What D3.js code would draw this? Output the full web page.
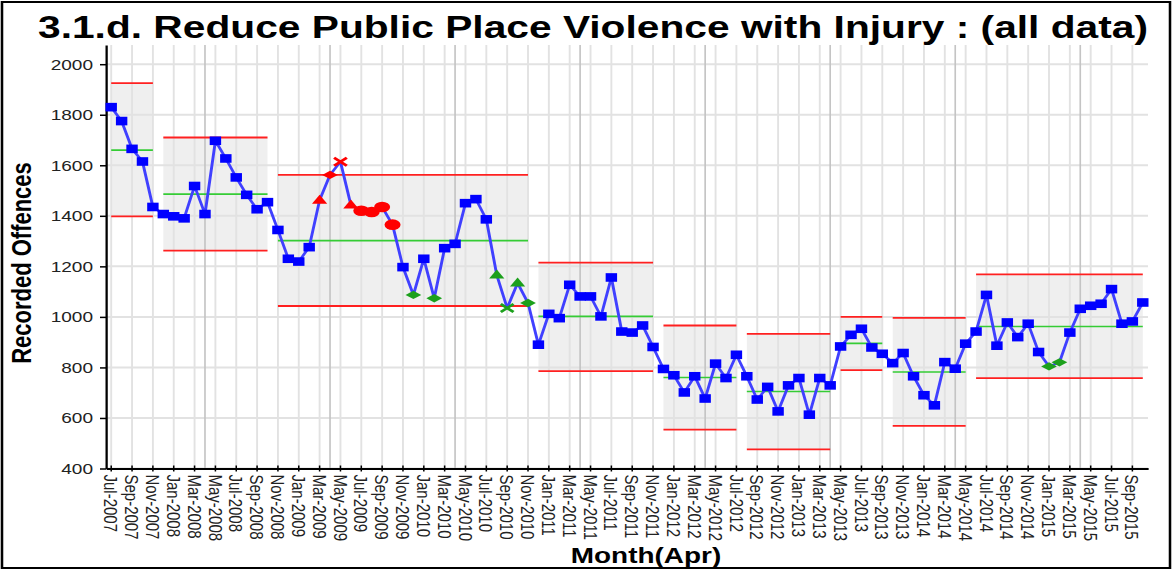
<!DOCTYPE html>
<html>
<head>
<meta charset="utf-8">
<script src="https://cdnjs.cloudflare.com/ajax/libs/d3/7.8.5/d3.min.js"></script>
<style>
  body { margin: 0; background: #fff; }
  svg { display: block; }
  text { font-family: "Liberation Sans", Arial, sans-serif; }
</style>
</head>
<body>
<svg id="chart"></svg>
<script>
// Monthly recorded offences, Jul-2007 .. Oct-2015
const firstMonth = new Date(2007, 6, 1);
const lastMonth = new Date(2015, 9, 1);

const offences = [
    1830, 1775, 1665, 1615, 1435,
    1407, 1398, 1390, 1518, 1407, 1697, 1627, 1552, 1483, 1426, 1454,
    1344, 1230, 1219, 1276, 1462, 1562, 1614, 1443, 1420, 1415, 1435, 1365,
    1197, 1087, 1230, 1074, 1272, 1289, 1450, 1466, 1386, 1166, 1035, 1134, 1055,
    890, 1012, 995, 1127, 1081, 1081, 1002, 1156, 942, 938, 966, 881,
    794, 769, 701, 765, 677, 815, 758, 850,
    765, 673, 723, 626, 729, 758, 613, 758, 729,
    883, 929, 953, 879, 854,
    817, 857, 765, 690, 650, 821, 795, 894,
    942, 1087, 886, 978, 920, 973, 861, 804, 820, 938, 1032, 1044, 1052, 1110, 973, 982, 1057
];

// control limit periods
const segStart = ['Jul-2007', 'Dec-2007', 'Nov-2008', 'Dec-2010', 'Dec-2011', 'Aug-2012', 'May-2013', 'Oct-2013', 'Jun-2014'];
const segEnd   = ['Nov-2007', 'Oct-2008', 'Nov-2010', 'Nov-2011', 'Jul-2012', 'Apr-2013', 'Sep-2013', 'May-2014', 'Oct-2015'];
const segMean  = [1660, 1486, 1302, 1002, 760, 705, 895, 782, 962];
const segUCL   = [1925, 1710, 1562, 1215, 966, 933, 1000, 996, 1168];
const segLCL   = [1398, 1262, 1043, 785, 554, 476, 789, 569, 758];

// special cause points: [month, side, rule]
const signals = [
    ['Mar-2009', 'hi', 'twoOfThree'], ['Apr-2009', 'hi', 'fourOfFive'], ['May-2009', 'hi', 'outside'],
    ['Jun-2009', 'hi', 'twoOfThree'], ['Jul-2009', 'hi', 'run'], ['Aug-2009', 'hi', 'run'],
    ['Sep-2009', 'hi', 'run'], ['Oct-2009', 'hi', 'run'],
    ['Dec-2009', 'lo', 'fourOfFive'], ['Feb-2010', 'lo', 'fourOfFive'], ['Aug-2010', 'lo', 'twoOfThree'],
    ['Sep-2010', 'lo', 'outside'], ['Oct-2010', 'lo', 'twoOfThree'], ['Nov-2010', 'lo', 'fourOfFive'],
    ['Jan-2015', 'lo', 'fourOfFive'], ['Feb-2015', 'lo', 'fourOfFive']
];

const yTicks = [400, 600, 800, 1000, 1200, 1400, 1600, 1800, 2000];

const W = 1174, H = 571;
const SX = 1.27; // picture is stretched horizontally
const VW = W / SX;

const svg = d3.select('#chart')
    .attr('width', W)
    .attr('height', H)
    .attr('viewBox', [0, 0, VW, H])
    .attr('preserveAspectRatio', 'none');

const fmt = d3.timeFormat('%b-%Y');
const monthDates = d3.timeMonth.range(firstMonth, d3.timeMonth.offset(lastMonth, 1));
const months = monthDates.map(fmt);

const x = d3.scaleBand().domain(months).range([106 / SX, 1148 / SX]);
const cx = m => x(m) + x.bandwidth() / 2;
const y = d3.scaleLinear().domain([400, 2076]).range([468.5, 45]);
const [left, right] = x.range();

// frame
svg.append('rect')
    .attr('x', 2 / SX).attr('y', 2)
    .attr('width', 1168 / SX).attr('height', 566)
    .attr('fill', 'none').attr('stroke', '#000').attr('stroke-width', 2);

// title
svg.append('text')
    .attr('x', 593 / SX).attr('y', 38)
    .attr('text-anchor', 'middle')
    .attr('font-size', 32).attr('font-weight', 'bold')
    .attr('textLength', 1110 / SX).attr('lengthAdjust', 'spacingAndGlyphs')
    .text('3.1.d. Reduce Public Place Violence with Injury : (all data)');

const segs = segStart.map((s, i) => ({ s, e: segEnd[i], mean: segMean[i], ucl: segUCL[i], lcl: segLCL[i] }));

// shaded limit bands
svg.append('g').selectAll('rect')
    .data(segs)
    .join('rect')
    .attr('x', d => cx(d.s))
    .attr('width', d => cx(d.e) - cx(d.s))
    .attr('y', d => y(d.ucl))
    .attr('height', d => y(d.lcl) - y(d.ucl))
    .attr('fill', '#efefef');

// grid
const grid = svg.append('g');
grid.selectAll('.hg')
    .data(yTicks)
    .join('line')
    .attr('x1', left).attr('x2', right)
    .attr('y1', d => y(d)).attr('y2', d => y(d))
    .attr('stroke', '#e2e2e2').attr('stroke-width', 2);

const tickMonths = months.filter((m, i) => i % 2 === 0);
grid.selectAll('.vg')
    .data(tickMonths)
    .join('line')
    .attr('x1', d => cx(d)).attr('x2', d => cx(d))
    .attr('y1', y.range()[1]).attr('y2', y.range()[0])
    .attr('stroke', '#e2e2e2').attr('stroke-width', 1.5);

grid.selectAll('.ag')
    .data(months.filter(m => m.startsWith('Apr')))
    .join('line')
    .attr('x1', d => cx(d)).attr('x2', d => cx(d))
    .attr('y1', y.range()[1]).attr('y2', y.range()[0])
    .attr('stroke', '#c4c4c4').attr('stroke-width', 1.3);

// limits and means
const lim = svg.append('g');
[['ucl', '#ff2020', 1.8], ['lcl', '#ff2020', 1.8], ['mean', '#35cc35', 1.6]].forEach(([k, col, w]) => {
    lim.selectAll('.' + k)
        .data(segs)
        .join('line')
        .attr('x1', d => cx(d.s)).attr('x2', d => cx(d.e))
        .attr('y1', d => y(d[k])).attr('y2', d => y(d[k]))
        .attr('stroke', col).attr('stroke-width', w);
});

// axes
const yAxis = svg.append('g')
    .attr('transform', `translate(${left},0)`)
    .call(d3.axisLeft(y).tickValues(yTicks).tickFormat(d3.format('d'))
        .tickSize(6 / SX).tickSizeOuter(0).tickPadding(7 / SX));
yAxis.select('.domain').attr('stroke', '#000').attr('stroke-width', 1.8);
yAxis.selectAll('.tick line').attr('stroke', '#000').attr('stroke-width', 1.5);
yAxis.selectAll('.tick text')
    .attr('font-size', 15).attr('fill', '#222')
    .attr('font-family', '"Liberation Sans", Arial, sans-serif');

const xAxis = svg.append('g')
    .attr('transform', `translate(0,${y.range()[0]})`)
    .call(d3.axisBottom(x).tickValues(tickMonths).tickSize(3).tickSizeOuter(0).tickPadding(0));
xAxis.select('.domain').attr('stroke', '#000').attr('stroke-width', 1.8);
xAxis.selectAll('.tick line').attr('y1', -3).attr('stroke', '#000').attr('stroke-width', 1.2);
xAxis.selectAll('.tick text')
    .attr('font-size', 15).attr('fill', '#222')
    .attr('font-family', '"Liberation Sans", Arial, sans-serif')
    .attr('text-anchor', 'start')
    .attr('transform', 'rotate(90)')
    .attr('x', 6).attr('y', 0).attr('dy', '0.36em');

// axis titles
svg.append('text')
    .attr('transform', `translate(${31 / SX},263) rotate(-90)`)
    .attr('text-anchor', 'middle')
    .attr('font-size', 22).attr('font-weight', 'bold')
    .text('Recorded Offences');

svg.append('text')
    .attr('x', 646 / SX).attr('y', 563)
    .attr('text-anchor', 'middle')
    .attr('font-size', 22).attr('font-weight', 'bold')
    .text('Month(Apr)');

// series line
const line = d3.line().x((d, i) => cx(months[i])).y(d => y(d));
svg.append('path')
    .datum(offences)
    .attr('d', line)
    .attr('fill', 'none')
    .attr('stroke', '#4040ff')
    .attr('stroke-width', 2.3)
    .attr('stroke-linejoin', 'round');

// markers
const sigByMonth = new Map(signals.map(s => [s[0], { side: s[1], rule: s[2] }]));
const points = offences.map((v, i) => ({ m: months[i], v, sig: sigByMonth.get(months[i]) }));

const plain = points.filter(p => !p.sig);
svg.append('g').selectAll('rect')
    .data(plain)
    .join('rect')
    .attr('x', d => cx(d.m) - 4.5)
    .attr('y', d => y(d.v) - 4.3)
    .attr('width', 9).attr('height', 8.6)
    .attr('fill', '#0000ff');

function shapePath(rule) {
    const p = d3.path();
    if (rule === 'twoOfThree') {
        p.moveTo(0, -5.5); p.lineTo(6, 3.5); p.lineTo(-6, 3.5); p.closePath();
    } else if (rule === 'fourOfFive') {
        p.moveTo(0, -4.2); p.lineTo(6.2, 0); p.lineTo(0, 4.2); p.lineTo(-6.2, 0); p.closePath();
    } else if (rule === 'outside') {
        p.moveTo(-5, -4); p.lineTo(5, 4); p.moveTo(-5, 4); p.lineTo(5, -4);
    }
    return p.toString();
}

const sigColor = { hi: '#ff0000', lo: '#1ca01c' };
const special = svg.append('g');
special.selectAll('ellipse')
    .data(points.filter(p => p.sig && p.sig.rule === 'run'))
    .join('ellipse')
    .attr('cx', d => cx(d.m)).attr('cy', d => y(d.v))
    .attr('rx', 6.3).attr('ry', 5.3)
    .attr('fill', d => sigColor[d.sig.side]);

special.selectAll('path')
    .data(points.filter(p => p.sig && p.sig.rule !== 'run'))
    .join('path')
    .attr('transform', d => `translate(${cx(d.m)},${y(d.v)})`)
    .attr('d', d => shapePath(d.sig.rule))
    .attr('fill', d => d.sig.rule === 'outside' ? 'none' : sigColor[d.sig.side])
    .attr('stroke', d => d.sig.rule === 'outside' ? sigColor[d.sig.side] : 'none')
    .attr('stroke-width', 2.5);
</script>
</body>
</html>
